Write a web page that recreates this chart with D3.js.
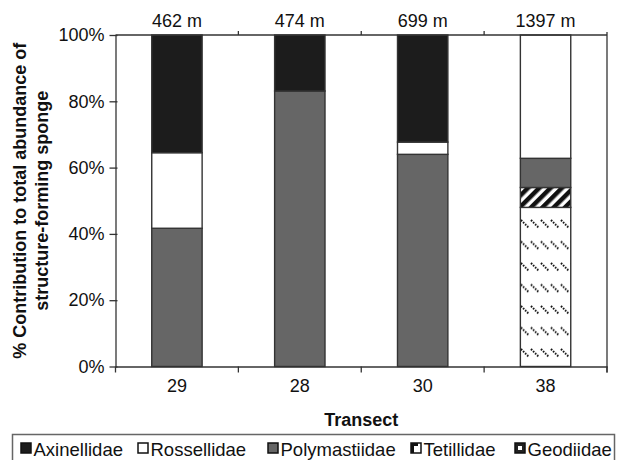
<!DOCTYPE html>
<html><head><meta charset="utf-8">
<script src="https://cdn.jsdelivr.net/npm/d3@7"></script>
<style>body{margin:0;background:#fff;} svg{display:block;font-family:"Liberation Sans",Arial,sans-serif;}</style>
</head><body><svg id="c" width="617" height="460"></svg>
<script>
const transects = ["29","28","30","38"];
const depths = ["462 m","474 m","699 m","1397 m"];
const stackOrder = ["Geodiidae","Tetillidae","Polymastiidae","Rossellidae","Axinellidae"];
const geodiidae = [0,0,0,48];
const tetillidae = [0,0,0,6];
const polymastiidae = [41.7,83.1,64,8.8];
const rossellidae = [22.8,0,3.7,37.2];
const axinellidae = [35.5,16.9,32.3,0];
const yTicks = [0,20,40,60,80,100];
const legendOrder = ["Axinellidae","Rossellidae","Polymastiidae","Tetillidae","Geodiidae"];

const series = {Geodiidae:geodiidae, Tetillidae:tetillidae, Polymastiidae:polymastiidae, Rossellidae:rossellidae, Axinellidae:axinellidae};
const rows = transects.map((t,i)=>{const r={transect:t}; stackOrder.forEach(f=>r[f]=series[f][i]); return r;});

const svg = d3.select("#c");
const L=115.5, R=607, T=35, B=366.5;
const x = d3.scaleBand().domain(transects).range([L,R]).padding(0);
const y = d3.scaleLinear().domain([0,100]).range([B,T]);
const barW = x.bandwidth()*0.41;
const ink="#333";

const defs = svg.append("defs");
const geo = defs.append("pattern").attr("id","geo").attr("patternUnits","userSpaceOnUse")
  .attr("width",10).attr("height",21.5).attr("x",0).attr("y",4);
geo.append("rect").attr("width",10).attr("height",21.5).attr("fill","#fff");
geo.append("line").attr("x1",1).attr("y1",1).attr("x2",8.5).attr("y2",8.5)
  .attr("stroke","#111").attr("stroke-width",2).attr("stroke-dasharray","1.6,1.3");
const tet = defs.append("pattern").attr("id","tet").attr("patternUnits","userSpaceOnUse")
  .attr("width",8).attr("height",8).attr("patternTransform","rotate(45)");
tet.append("rect").attr("width",8).attr("height",8).attr("fill","#fff");
tet.append("rect").attr("width",4.5).attr("height",8).attr("fill","#111");

const fills = {Axinellidae:"#1c1c1c", Rossellidae:"#fff", Polymastiidae:"#666", Tetillidae:"url(#tet)", Geodiidae:"url(#geo)"};

const stack = d3.stack().keys(stackOrder)(rows);
svg.append("g").selectAll("g").data(stack).join("g")
  .attr("fill",d=>fills[d.key])
  .selectAll("rect").data(d=>d.filter(s=>s[1]-s[0]>0)).join("rect")
  .attr("x",d=>x(d.data.transect)+x.bandwidth()/2-barW/2)
  .attr("width",barW)
  .attr("y",d=>y(d[1]))
  .attr("height",d=>y(d[0])-y(d[1]))
  .attr("stroke",ink).attr("stroke-width",1.4);

// frame
const fr = svg.append("g").attr("stroke",ink).attr("stroke-width",1.3).attr("fill","none");
fr.append("line").attr("x1",L).attr("x2",R).attr("y1",y(100)).attr("y2",y(100));
fr.append("line").attr("x1",R).attr("x2",R).attr("y1",y(0)+6).attr("y2",y(100)-3);
const bounds = transects.map(t=>x(t)+x.bandwidth());
fr.selectAll(".tt").data(bounds.slice(0,-1)).join("line").attr("x1",d=>d).attr("x2",d=>d).attr("y1",y(100)).attr("y2",y(100)-4);
fr.selectAll(".bt").data([L].concat(bounds)).join("line").attr("x1",d=>d).attr("x2",d=>d).attr("y1",y(0)).attr("y2",y(0)+6);

// y axis
const ya = svg.append("g").attr("transform",`translate(${L},0)`)
  .call(d3.axisLeft(y).tickValues(yTicks).tickFormat(d=>d+"%").tickSize(6).tickSizeOuter(0));
ya.select(".domain").attr("stroke",ink).attr("stroke-width",1.3);
ya.selectAll(".tick line").attr("stroke",ink).attr("stroke-width",1.3).attr("x2",-6).attr("x1",2);
ya.selectAll(".tick text").attr("font-size",18).attr("font-family","Liberation Sans, Arial, sans-serif").attr("fill","#111").attr("x",-11);

// x axis
const xa = svg.append("g").attr("transform",`translate(0,${B})`)
  .call(d3.axisBottom(x).tickSize(0).tickSizeOuter(0));
xa.select(".domain").attr("stroke",ink).attr("stroke-width",1.3);
xa.selectAll(".tick text").attr("font-size",18).attr("font-family","Liberation Sans, Arial, sans-serif").attr("fill","#111").attr("y",13);

// depth labels
svg.append("g").selectAll("text").data(depths).join("text")
  .attr("x",(d,i)=>x(transects[i])+x.bandwidth()/2).attr("y",27)
  .attr("text-anchor","middle").attr("font-size",18).attr("fill","#111").text(d=>d);

// axis titles
svg.append("text").attr("x",(L+R)/2).attr("y",426).attr("text-anchor","middle")
  .attr("font-size",18).attr("font-weight","bold").attr("fill","#111").text("Transect");
const yt = svg.append("text").attr("transform",`translate(0,${(T+B)/2}) rotate(-90)`)
  .attr("text-anchor","middle").attr("font-size",18).attr("font-weight","bold").attr("fill","#111");
yt.append("tspan").attr("x",0).attr("y",26).text("% Contribution to total abundance of");
yt.append("tspan").attr("x",0).attr("y",48).text("structure-forming sponge");

// legend
svg.append("rect").attr("x",12.5).attr("y",434.5).attr("width",602).attr("height",40)
  .attr("fill","#fff").attr("stroke","#666").attr("stroke-width",1.5);
const legX = {Axinellidae:21, Rossellidae:138, Polymastiidae:268, Tetillidae:411, Geodiidae:515};
const lg = svg.append("g").selectAll("g").data(legendOrder).join("g")
  .attr("transform",d=>`translate(${legX[d]},443)`);
lg.append("rect").attr("width",10).attr("height",10)
  .attr("fill",d=>({Axinellidae:"#1c1c1c",Rossellidae:"#fff",Polymastiidae:"#666",Tetillidae:"#fff",Geodiidae:"#222"})[d])
  .attr("stroke","#111").attr("stroke-width",1.5);
lg.filter(d=>d==="Tetillidae").append("path").attr("d","M0,0H7V3H3V10H0Z").attr("fill","#111");
lg.filter(d=>d==="Geodiidae").append("rect").attr("x",3).attr("y",3).attr("width",4).attr("height",4).attr("fill","#fff");
lg.append("text").attr("x",12.5).attr("y",12.5).attr("font-size",18.5).attr("fill","#111").text(d=>d);
</script>
</body></html>
